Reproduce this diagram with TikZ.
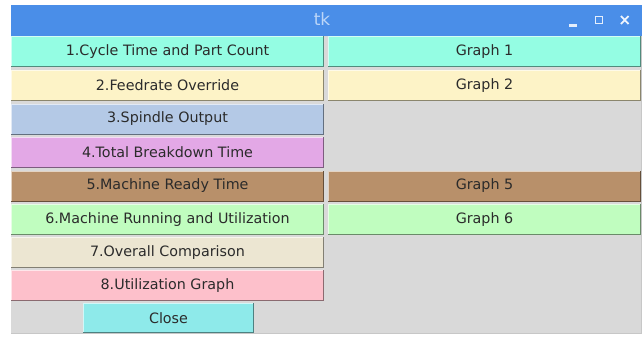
\documentclass[tikz,border=0pt]{standalone}
\usepackage{fontspec}
\setmainfont{DejaVu Sans}
\definecolor{titlebar}{HTML}{4A8EE8}
\definecolor{titletext}{HTML}{BCD6F8}
\definecolor{bodygray}{HTML}{D9D9D9}
\definecolor{txt}{HTML}{2B2B2B}
\definecolor{cA}{HTML}{94FDE3}
\definecolor{cB}{HTML}{FDF3C7}
\definecolor{cC}{HTML}{B4C9E6}
\definecolor{cD}{HTML}{E3A8E6}
\definecolor{cE}{HTML}{B8906A}
\definecolor{cF}{HTML}{C0FDBF}
\definecolor{cG}{HTML}{ECE6D2}
\definecolor{cH}{HTML}{FDC0CB}
\definecolor{cI}{HTML}{8EEAEA}
\tikzset{
  btn/.style={fill=#1, inner sep=0pt, outer sep=0pt, minimum width=313pt, minimum height=31pt,
    text=txt, font=\fontsize{14.3}{16}\selectfont},
  closebtn/.style={fill=cI, inner sep=0pt, outer sep=0pt, minimum width=171pt, minimum height=30pt,
    text=txt, font=\fontsize{14.3}{16}\selectfont},
  shade/.style={draw=#1!55!black, line width=1pt},
  hilite/.style={draw=#1!40!white, line width=0.8pt}
}
\newcommand{\relief}[2]{%
  \draw[hilite=#2] ([xshift=0.5pt]#1.south west) -- ([xshift=0.5pt,yshift=-0.5pt]#1.north west) -- ([yshift=-0.5pt]#1.north east);
  \draw[shade=#2] ([yshift=0.5pt]#1.south west) -- ([xshift=-0.5pt,yshift=0.5pt]#1.south east) -- ([xshift=-0.5pt]#1.north east);}
\begin{document}
\begin{tikzpicture}[x=1pt,y=-1pt]
\useasboundingbox (0,0) rectangle (644,338);
\fill[white] (0,0) rectangle (644,338);
% window body
\fill[bodygray] (11,36) rectangle (642,334);
\draw[black!22, line width=0.8pt] (11,333.5) -- (641.5,333.5) -- (641.5,36);
% title bar
\fill[titlebar] (11,5) rectangle (642,36);
\node[text=titletext, font=\fontsize{17}{19}\selectfont] (title) at (322,19) {tk};
% window controls
\fill[white!85!titlebar] (569,24) rectangle (577,26.5);
\node[draw=white!85!titlebar, line width=1.6pt, minimum width=7pt, minimum height=7pt, inner sep=0pt] (maxbtn) at (599,20) {};
\draw[white!90!titlebar, line width=1.8pt] (621,16) -- (628.5,24) (621,24) -- (628.5,16);
% left column
\node[btn=cA] (b1) at (167.5,51.5) {1.Cycle Time and Part Count};
\node[btn=cB] (b2) at (167.5,85.5) {2.Feedrate Override};
\node[btn=cC] (b3) at (167.5,119) {3.Spindle Output};
\node[btn=cD] (b4) at (167.5,152.5) {4.Total Breakdown Time};
\node[btn=cE] (b5) at (167.5,186) {5.Machine Ready Time};
\node[btn=cF] (b6) at (167.5,219.5) {6.Machine Running and Utilization};
\node[btn=cG] (b7) at (167.5,252.5) {7.Overall Comparison};
\node[btn=cH] (b8) at (167.5,285.5) {8.Utilization Graph};
\node[closebtn] (close) at (168.5,318) {Close};
% right column
\node[btn=cA] (g1) at (484.5,51.5) {Graph 1};
\node[btn=cB] (g2) at (484.5,85.5) {Graph 2};
\node[btn=cE] (g5) at (484.5,186) {Graph 5};
\node[btn=cF] (g6) at (484.5,219.5) {Graph 6};
\relief{b1}{cA}\relief{b2}{cB}\relief{b3}{cC}\relief{b4}{cD}\relief{b5}{cE}\relief{b6}{cF}\relief{b7}{cG}\relief{b8}{cH}
\relief{close}{cI}\relief{g1}{cA}\relief{g2}{cB}\relief{g5}{cE}\relief{g6}{cF}
\end{tikzpicture}
\end{document}
